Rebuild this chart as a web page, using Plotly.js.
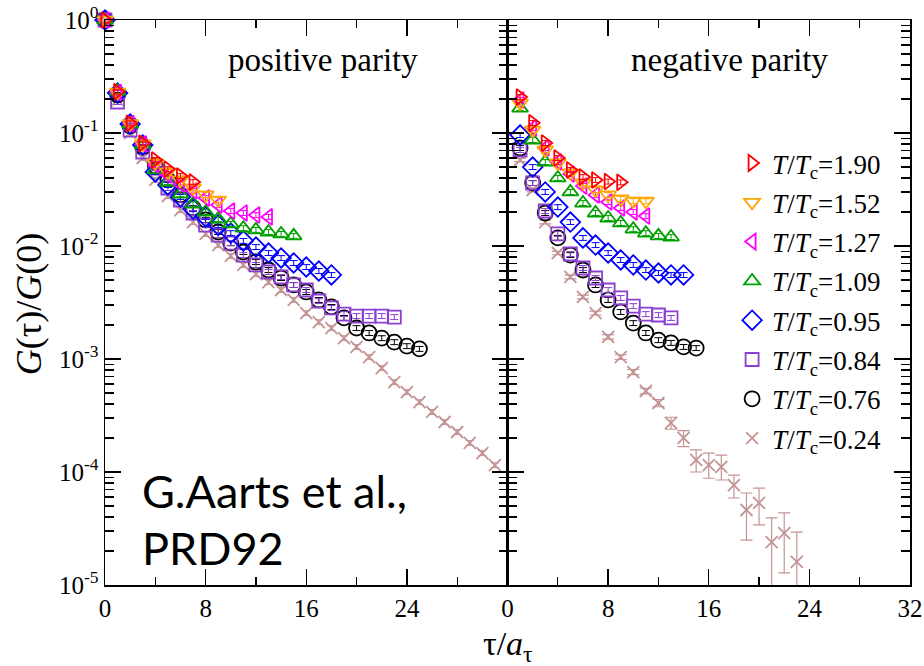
<!DOCTYPE html>
<html>
<head>
<meta charset="utf-8">
<script src="https://cdn.plot.ly/plotly-3.0.1.min.js"></script>
<style>html,body{margin:0;padding:0;background:#fff;}#chart{width:924px;height:666px;}</style>
</head>
<body>
<div id="chart"></div>
<script>
// ---- data ----
const labels = ['1.90', '1.52', '1.27', '1.09', '0.95', '0.84', '0.76', '0.24'];

// positive parity, tau = 0,1,2,...
const posRed     = [1, 0.232, 0.122, 0.081, 0.0577, 0.048, 0.0416, 0.0368];
const posOrange  = [1, 0.23, 0.121, 0.080, 0.0543, 0.0452, 0.0384, 0.0326, 0.0283, 0.0255];
const posMagenta = [1, 0.228, 0.121, 0.080, 0.0521, 0.0425, 0.0354, 0.0307, 0.0266, 0.0231, 0.0204, 0.0196, 0.0188, 0.0181];
const posGreen   = [1, 0.235, 0.12, 0.079, 0.0471, 0.0368, 0.0288, 0.0235, 0.0200, 0.0173, 0.0157, 0.0144, 0.0139, 0.0133, 0.0128, 0.0123];
const posBlue    = [1, 0.226, 0.120, 0.0783, 0.0452, 0.0347, 0.0272, 0.0212, 0.0181, 0.0153, 0.0130, 0.0111, 0.0098, 0.00867, 0.00783, 0.00708, 0.00652, 0.00601, 0.00554];
const posPurple  = [1, 0.188, 0.106, 0.0679, 0.049, 0.0326, 0.0255, 0.0196, 0.0153, 0.0125, 0.0106, 0.00832, 0.0068, 0.00589, 0.00532, 0.00452, 0.00408, 0.00326, 0.00283, 0.0025, 0.0024, 0.0024, 0.0024, 0.00235];
const posBlack   = [1, 0.217, 0.115, 0.0752, 0.0511, 0.0384, 0.0283, 0.0217, 0.017, 0.0133, 0.0106, 0.00885, 0.00722, 0.00613, 0.00521, 0.00452, 0.00392, 0.00333, 0.00289, 0.00231, 0.00188, 0.0017, 0.00153, 0.00141, 0.0013, 0.00123];
const posTan     = [1, 0.196, 0.1, 0.0601, 0.0384, 0.0277, 0.0208, 0.0163, 0.0128, 0.0102, 0.00816, 0.0068, 0.00565, 0.0048, 0.00408, 0.00333, 0.00255, 0.00212, 0.00188, 0.00153, 0.00128, 0.00104, 0.000832, 0.000625, 0.00051, 0.000416, 0.00034, 0.000277, 0.000226, 0.000181, 0.000147, 0.000115];

// negative parity, tau = 1,2,3,...
const negRed     = [0.208, 0.123, 0.0816, 0.0601, 0.0471, 0.0408, 0.0384, 0.0372, 0.0366];
const negOrange  = [0.184, 0.106, 0.0707, 0.0543, 0.0443, 0.0361, 0.0313, 0.0283, 0.0261, 0.025, 0.0249];
const negMagenta = [0.196, 0.111, 0.0737, 0.0554, 0.0434, 0.034, 0.0283, 0.0245, 0.0217, 0.02, 0.0184];
const negGreen   = [0.166, 0.0867, 0.0554, 0.04, 0.0301, 0.024, 0.0196, 0.0177, 0.016, 0.0141, 0.013, 0.0123, 0.012];
const negBlue    = [0.096, 0.05, 0.0301, 0.0221, 0.0163, 0.0118, 0.0102, 0.00867, 0.00752, 0.0068, 0.00613, 0.00577, 0.00554, 0.00554];
const negPurple  = [0.0707, 0.0361, 0.0204, 0.0128, 0.0085, 0.00639, 0.00521, 0.00408, 0.00347, 0.00294, 0.0025, 0.00245, 0.00231];
const negBlack   = [0.0737, 0.0361, 0.0196, 0.0118, 0.00832, 0.00613, 0.00452, 0.00333, 0.00261, 0.00208, 0.0017, 0.00147, 0.00139, 0.00128, 0.00125];
const negTan     = [0.0577, 0.0313, 0.0163, 0.00867, 0.00532, 0.00354, 0.00255, 0.00157, 0.00104, 0.000767, 0.000521, 0.000408, 0.000272, 0.0002, 0.000128, 0.000115, 0.000111, 0.0000767, 0.0000461, 0.0000532, 0.000024, 0.0000288, 0.000016];
const negTanErrPlus  = [0.002, 0.0012, 0.0006, 0.0003, 0.0002, 0.00014, 0.0001, 0.00007, 0.00005, 0.00004, 0.00003, 0.00003, 0.000033, 0.000032, 0.000029, 0.000032, 0.00003, 0.0000173, 0.0000191, 0.0000189, 0.0000152, 0.0000146, 0.0000134];
const negTanErrMinus = [0.002, 0.0012, 0.0006, 0.0003, 0.0002, 0.00014, 0.0001, 0.00007, 0.00005, 0.00004, 0.00003, 0.00003, 0.000033, 0.000032, 0.000028, 0.000027, 0.000026, 0.0000178, 0.0000211, 0.0000192, 0.000015, 0.000016, 0.0000125];

const xTickValsL = [0, 8, 16, 24];
const xTickValsR = [0, 8, 16, 24, 32];
const xMinorVals = [4, 12, 20, 28];
const yTickVals = [1e-5, 1e-4, 1e-3, 1e-2, 1e-1, 1];
const yTickText = ['10<sup>-5</sup>', '10<sup>-4</sup>', '10<sup>-3</sup>', '10<sup>-2</sup>', '10<sup>-1</sup>', '10<sup>0</sup>'];

// ---- styles ----
const colors  = ['#ff0000', '#ffa500', '#ff00ff', '#00a000', '#0000ff', '#8a3fd0', '#000000', '#c49494'];
const symbols = ['triangle-right-open', 'triangle-down-open', 'triangle-left-open', 'triangle-up-open', 'diamond-open', 'square-open', 'circle-open', 'x-thin-open'];
const sizes   = [14, 14, 14, 14, 15, 13, 15, 12];
const posSets = [posRed, posOrange, posMagenta, posGreen, posBlue, posPurple, posBlack, posTan];
const negSets = [negRed, negOrange, negMagenta, negGreen, negBlue, negPurple, negBlack, negTan];

const serif = 'Liberation Serif, Times New Roman, serif';
const traces = [];
// draw order: T/Tc=0.24 at the bottom, 1.90 on top
for (let k = 7; k >= 0; k--) {
  const ys = posSets[k];
  traces.push({
    type: 'scatter', mode: 'markers', xaxis: 'x', yaxis: 'y',
    x: ys.map((_, i) => i), y: ys,
    legendgroup: 'g' + k, legendrank: k + 1, showlegend: false, cliponaxis: false,
    marker: { symbol: symbols[k], size: sizes[k], color: colors[k], line: { color: colors[k], width: 1.8 } },
    error_y: { type: 'percent', value: 5, color: colors[k], thickness: 1, width: 4 },
    hoverinfo: 'x+y'
  });
}
for (let k = 7; k >= 0; k--) {
  const ys = negSets[k];
  const err = (k === 7)
    ? { type: 'data', array: negTanErrPlus, arrayminus: negTanErrMinus, symmetric: false, color: colors[k], thickness: 1.2, width: 6 }
    : { type: 'percent', value: 5, color: colors[k], thickness: 1, width: 4 };
  traces.push({
    type: 'scatter', mode: 'markers', xaxis: 'x2', yaxis: 'y2',
    x: ys.map((_, i) => i + 1), y: ys,
    name: '<i>T</i>/<i>T</i><sub>c</sub>=' + labels[k],
    legendgroup: 'g' + k, legendrank: k + 1, showlegend: true,
    marker: { symbol: symbols[k], size: sizes[k], color: colors[k], line: { color: colors[k], width: 1.8 } },
    error_y: err,
    hoverinfo: 'x+y'
  });
}

const axisCommon = {
  range: [0, 32], showgrid: false, zeroline: false,
  showline: true, linecolor: '#000', linewidth: 1.5, mirror: 'allticks',
  ticks: 'inside', ticklen: 16, tickwidth: 1.3, tickcolor: '#000',
  tickmode: 'array',
  minor: { tickmode: 'array', tickvals: xMinorVals, ticks: 'inside', ticklen: 8, tickwidth: 1.3, tickcolor: '#000' },
  tickfont: { family: serif, size: 25, color: '#000' }
};
const yMinor = [];
for (let e = -5; e < 0; e++) for (let m = 2; m <= 9; m++) yMinor.push(m * Math.pow(10, e));
const yCommon = {
  type: 'log', range: [-5, 0], showgrid: false, zeroline: false,
  showline: true, linecolor: '#000', linewidth: 1.5, mirror: 'allticks',
  ticks: 'inside', ticklen: 16, tickwidth: 1.3, tickcolor: '#000',
  tickmode: 'array', tickvals: yTickVals, ticktext: yTickText,
  minor: { tickmode: 'array', tickvals: yMinor, ticks: 'inside', ticklen: 9, tickwidth: 1.2, tickcolor: '#000' },
  tickfont: { family: serif, size: 25, color: '#000' }
};

const layout = {
  width: 924, height: 666,
  margin: { l: 105, r: 14, t: 20, b: 81 },
  paper_bgcolor: '#fff', plot_bgcolor: '#fff',
  showlegend: true,
  xaxis: Object.assign({}, axisCommon, { domain: [0, 0.5], anchor: 'y', tickvals: xTickValsL }),
  xaxis2: Object.assign({}, axisCommon, { domain: [0.5, 1], anchor: 'y2', tickvals: xTickValsR }),
  yaxis: Object.assign({}, yCommon, { domain: [0, 1], anchor: 'x' }),
  yaxis2: Object.assign({}, yCommon, { domain: [0, 1], anchor: 'x2', showticklabels: false }),
  legend: {
    x: 0.779, xanchor: 'left', y: 0.7895, yanchor: 'top',
    bgcolor: 'rgba(0,0,0,0)', borderwidth: 0,
    traceorder: 'grouped', tracegroupgap: 1.2,
    font: { family: serif, size: 27, color: '#000' }
  },
  annotations: [
    { text: 'positive parity', xref: 'paper', yref: 'paper', x: 0.271, y: 0.929, xanchor: 'center', yanchor: 'middle', showarrow: false, font: { family: serif, size: 33, color: '#000' } },
    { text: 'negative parity', xref: 'paper', yref: 'paper', x: 0.776, y: 0.929, xanchor: 'center', yanchor: 'middle', showarrow: false, font: { family: serif, size: 33, color: '#000' } },
    { text: 'G.Aarts et al.,', xref: 'paper', yref: 'paper', x: 0.0435, y: 0.166, xanchor: 'left', yanchor: 'middle', showarrow: false, font: { family: 'Lato, Noto Sans, sans-serif', size: 45, color: '#000' } },
    { text: 'PRD92', xref: 'paper', yref: 'paper', x: 0.0435, y: 0.066, xanchor: 'left', yanchor: 'middle', showarrow: false, font: { family: 'Lato, Noto Sans, sans-serif', size: 45, color: '#000' } },
    { text: 'τ/<i>a</i><sub>τ</sub>', xref: 'paper', yref: 'paper', x: 0.5, y: -0.108, xanchor: 'center', yanchor: 'middle', showarrow: false, font: { family: serif, size: 34, color: '#000' } },
    { text: '<i>G</i>(τ)/<i>G</i>(0)', xref: 'paper', yref: 'paper', x: -0.095, y: 0.496, xanchor: 'center', yanchor: 'middle', textangle: -90, showarrow: false, font: { family: serif, size: 36, color: '#000' } }
  ]
};

Plotly.newPlot('chart', traces, layout, { displayModeBar: false, staticPlot: true });
</script>
</body>
</html>
